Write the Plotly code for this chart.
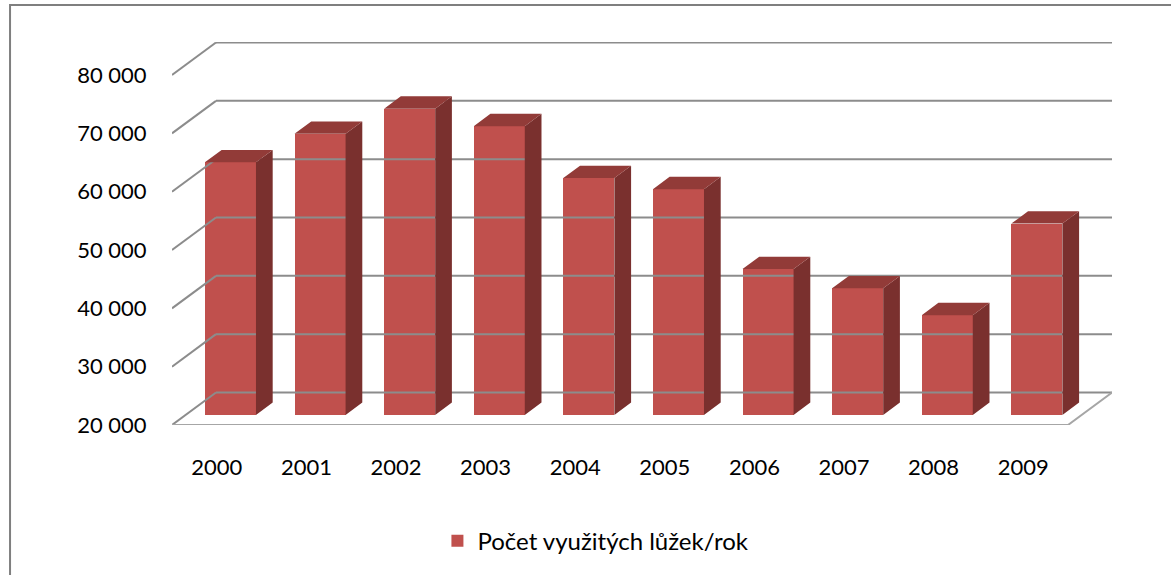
import plotly.graph_objects as go

# ---- data ----
years = ["2000", "2001", "2002", "2003", "2004", "2005", "2006", "2007", "2008", "2009"]
values = [63300, 68200, 72500, 69500, 60600, 58700, 45000, 41700, 37100, 52800]
tick_vals = [20000, 30000, 40000, 50000, 60000, 70000, 80000]
tick_text = ["20 000", "30 000", "40 000", "50 000", "60 000", "70 000", "80 000"]
series_name = "Počet využitých lůžek/rok"

# ---- pseudo-3D geometry (in axis units) ----
DX = 0.491      # depth offset along x (category units)
DY = 5571       # depth offset along y (value units)
F0, F1 = 0.31, 0.69   # bar depth position (fraction of floor depth)
BAR_W = 0.57
BASE = 20000
X0, X1 = -0.5, len(years) - 0.5

FRONT = "#C0504D"
TOP = "#923B38"
SIDE = "#7A302E"
GRID = "#8C8C8C"
FONT = "Lato"

fig = go.Figure()

# back wall gridlines + left wall diagonals
gx, gy = [], []
for v in tick_vals:
    gx += [X0 + DX, X1 + DX, None, X0, X0 + DX, None]
    gy += [v + DY, v + DY, None, v, v + DY, None]
fig.add_trace(go.Scatter(x=gx, y=gy, mode="lines", line=dict(color=GRID, width=2),
                         hoverinfo="skip", showlegend=False))

# floor (front and right edges)
fig.add_trace(go.Scatter(x=[X0, X1, X1 + DX], y=[BASE, BASE, BASE + DY], mode="lines",
                         line=dict(color="#A6A6A6", width=2), hoverinfo="skip", showlegend=False))

# side faces and top faces of the bars
dDX = (F1 - F0) * DX
sx, sy, tx, ty = [], [], [], []
for i, v in enumerate(values):
    xl = i + F0 * DX - BAR_W / 2
    xr = xl + BAR_W
    sx += [xr, xr, xr + dDX, xr + dDX, xr, None]
    sy += [BASE + F0 * DY, v + F0 * DY, v + F1 * DY, BASE + F1 * DY, BASE + F0 * DY, None]
    tx += [xl, xr, xr + dDX, xl + dDX, xl, None]
    ty += [v + F0 * DY, v + F0 * DY, v + F1 * DY, v + F1 * DY, v + F0 * DY, None]
fig.add_trace(go.Scatter(x=sx, y=sy, mode="lines", fill="toself", fillcolor=SIDE,
                         line=dict(width=0, color=SIDE), hoverinfo="skip", showlegend=False))
fig.add_trace(go.Scatter(x=tx, y=ty, mode="lines", fill="toself", fillcolor=TOP,
                         line=dict(width=0, color=TOP), hoverinfo="skip", showlegend=False))

# front faces (real bars)
fig.add_trace(go.Bar(
    x=[i + F0 * DX for i in range(len(years))],
    y=[v - BASE for v in values],
    base=BASE + F0 * DY,
    width=BAR_W,
    marker=dict(color=FRONT, line=dict(width=0)),
    name=series_name,
    showlegend=True,
))

fig.update_layout(
    width=1171, height=575,
    margin=dict(l=172, r=59, t=42, b=150),
    paper_bgcolor="white", plot_bgcolor="white",
    font=dict(family=FONT, size=22, color="#000000"),
    showlegend=True,
    legend=dict(orientation="h", xref="container", yref="container",
                x=0.5089, xanchor="center", y=0.059, yanchor="middle",
                font=dict(family=FONT, size=24, color="#000000")),
    xaxis=dict(range=[X0, X1 + DX], tickmode="array", tickvals=list(range(len(years))),
               ticktext=years, showgrid=False, zeroline=False, showline=False,
               ticks="outside", ticklen=23, tickcolor="rgba(0,0,0,0)", fixedrange=True),
    yaxis=dict(range=[BASE, 85660], tickmode="array", tickvals=tick_vals, ticktext=tick_text,
               showgrid=False, zeroline=False, showline=False,
               ticks="outside", ticklen=20, tickcolor="rgba(0,0,0,0)", fixedrange=True),
    shapes=[dict(type="rect", xref="paper", yref="paper", x0=-0.1723, x1=1.3, y0=-0.6, y1=1.0966,
                 line=dict(color="#7F7F7F", width=2), fillcolor="rgba(0,0,0,0)", layer="below")],
    bargap=0,
)

fig.write_html("out.html", config={"displayModeBar": False, "staticPlot": True},
               post_script="document.body.style.margin='0';document.body.style.overflow='hidden';")
